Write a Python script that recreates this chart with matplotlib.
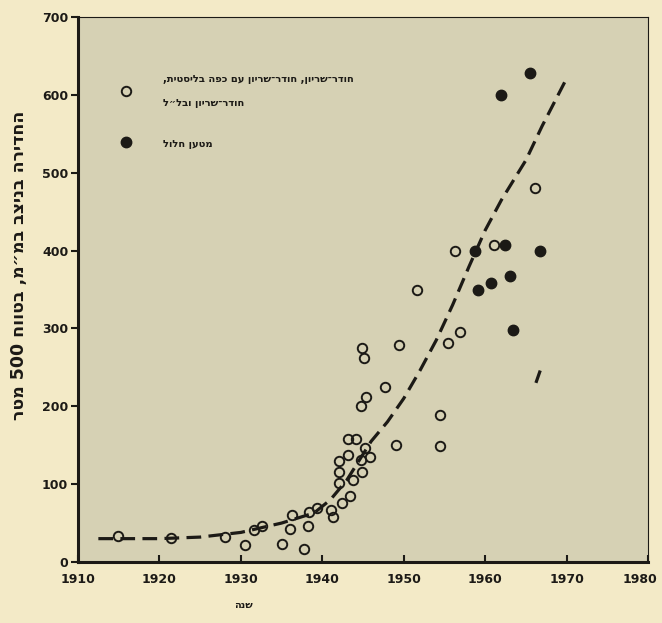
import re
import matplotlib
matplotlib.use('Agg')
import matplotlib.pyplot as plt
import matplotlib.transforms as mtrans

# open circles: AP, APC, APCBC, APDS
open_year = [1914.9, 1921.4, 1928.0, 1930.5, 1931.6, 1932.6, 1935.1, 1936.0, 1936.3,
             1937.8, 1938.3, 1938.4, 1939.4, 1941.1, 1941.3, 1942.4, 1943.4, 1942.1,
             1942.1, 1942.0, 1943.1, 1943.1, 1944.2, 1943.8, 1944.9, 1944.8, 1945.3,
             1945.8, 1944.8, 1945.4, 1944.9, 1945.1, 1947.7, 1949.4, 1949.1, 1954.4,
             1954.4, 1955.4, 1956.9, 1951.6, 1956.3, 1961.1, 1966.1]
open_pen = [33, 31, 32, 22, 41, 46, 23, 43, 60,
            17, 46, 64, 70, 67, 58, 76, 85, 101,
            116, 130, 137, 158, 158, 105, 116, 131, 146,
            135, 200, 212, 275, 262, 225, 279, 150, 189,
            149, 281, 296, 349, 400, 407, 481]

# filled circles: hollow charge
heat_year = [1965.5, 1961.9, 1958.7, 1962.5, 1966.7, 1960.7, 1959.1, 1963.1, 1963.4]
heat_pen = [628, 600, 399, 407, 399, 358, 349, 367, 298]

# dashed trend line
trend_year = [1912.5, 1920, 1925, 1930, 1935, 1939, 1941, 1943, 1946, 1948, 1950,
              1952, 1954, 1956, 1958, 1960, 1962, 1965, 1967, 1970]
trend_pen = [30, 30, 32, 38, 50, 63, 80, 105, 155, 180, 210,
             246, 285, 330, 379, 426, 465, 516, 560, 621]

# stray dash near 1966
stray_year = [1966.3, 1966.7]
stray_pen = [232, 244]

x_ticks = [1910, 1920, 1930, 1940, 1950, 1960, 1970, 1980]
y_ticks = [0, 100, 200, 300, 400, 500, 600, 700]

legend_open = 'חודר־שריון, חודר־שריון עם כפה בליסטית,'
legend_open2 = 'חודר־שריון ובל״ל'
legend_heat = 'מטען חלול'
y_label = 'החדירה בניצב במ״מ, בטווח 500 מטר'
x_label = 'שנה'


def vis(s):
    # matplotlib has no bidi, so put hebrew in visual order (digits kept)
    parts = re.findall(r'\d+|\D+', s)
    return ''.join(p if p.isdigit() else p[::-1] for p in reversed(parts))


ink = '#1c1a16'
W, H = 662, 623
fig = plt.figure(figsize=(W / 100, H / 100), dpi=100, facecolor='#f3eac7')
ax = fig.add_axes([78 / W, 1 - 562 / H, (648 - 78) / W, (562 - 17) / H])
ax.set_facecolor('#d6d1b4')

ax.plot(trend_year, trend_pen, color=ink, lw=2.3, dashes=(4.6, 2.3))
ax.plot(stray_year, stray_pen, color=ink, lw=2.3)
ax.plot(open_year, open_pen, 'o', ms=6.8, mfc='none', mec=ink, mew=1.4)
ax.plot(heat_year, heat_pen, 'o', ms=7.5, color=ink)

ax.set_xlim(1910, 1980)
ax.set_ylim(0, 700)
ax.set_xticks(x_ticks)
ax.set_yticks(y_ticks)
ax.tick_params(axis='x', direction='in', length=5, width=1.5, colors=ink,
               labelsize=9, pad=8)
ax.tick_params(axis='y', direction='out', length=5, width=1.5, colors=ink,
               labelsize=9, pad=2)
for lab in ax.get_xticklabels() + ax.get_yticklabels():
    lab.set_fontweight('bold')
# last year label sits a bit left so it stays on the page
last = ax.get_xticklabels()[-1]
last.set_transform(last.get_transform() + mtrans.ScaledTranslation(-8 / 100, 0, fig.dpi_scale_trans))
for side in ['left', 'bottom']:
    ax.spines[side].set_linewidth(2.2)
for side in ['top', 'right']:
    ax.spines[side].set_linewidth(0.8)
for sp in ax.spines.values():
    sp.set_color(ink)

# legend drawn by hand
ax.plot([1915.9], [605], 'o', ms=6.8, mfc='none', mec=ink, mew=1.4)
ax.plot([1915.9], [540], 'o', ms=7.5, color=ink)
ax.text(1920.4, 620, vis(legend_open), fontsize=7.2, fontweight='bold', color=ink,
        va='center', ha='left')
ax.text(1920.4, 590, vis(legend_open2), fontsize=7.2, fontweight='bold', color=ink,
        va='center', ha='left')
ax.text(1920.4, 537, vis(legend_heat), fontsize=7.2, fontweight='bold', color=ink,
        va='center', ha='left')

fig.text(19 / W, 1 - 265 / H, vis(y_label), rotation=90, fontsize=12.5,
         fontweight='bold', color=ink, ha='center', va='center')
fig.text(243 / W, 1 - 605 / H, vis(x_label), fontsize=7, fontweight='bold',
         color=ink, ha='center', va='center')

fig.savefig('out.png', dpi=100, facecolor=fig.get_facecolor())
